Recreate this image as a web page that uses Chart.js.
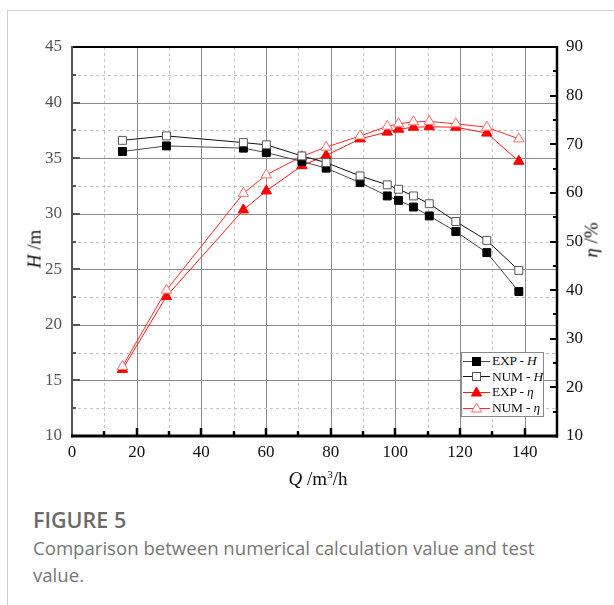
<!DOCTYPE html>
<html>
<head>
<meta charset="utf-8">
<script src="https://cdn.jsdelivr.net/npm/chart.js@4.4.1/dist/chart.umd.min.js"></script>
<style>
  html, body { margin: 0; padding: 0; background: #fff; }
  body { width: 614px; height: 605px; position: relative; overflow: hidden; }
  .card { position: absolute; left: 7px; top: 10px; width: 700px; height: 700px;
          border-left: 1px solid #cfcfcf; border-top: 1px solid #cfcfcf; }
  #wrap { position: absolute; left: 0; top: 0; width: 614px; height: 470px; }
  .serif { font-family: "Liberation Serif", "Times New Roman", serif; color: #111; }
  .axis-title { position: absolute; font-size: 19px; white-space: nowrap; line-height: 1; }
  .axis-title sup { font-size: 11px; vertical-align: 7px; line-height: 0; }
  #legend { position: absolute; left: 461px; top: 352px; width: 83px; height: 65px;
            border: 1px solid #8a8a8a; background: #fff; box-sizing: border-box; }
  #legend .row { position: absolute; left: 0px; height: 16px; display: flex; align-items: center;
                 font-size: 13.5px; white-space: nowrap; letter-spacing: -0.2px; }
  #legend svg { display: block; margin-right: 2px; }
  .caption { position: absolute; left: 33px; font-family: "Open Sans", "Noto Sans", sans-serif; color: #767676; }
  .fig { top: 505px; font-size: 21.5px; line-height: 30px; font-weight: 600; color: #6a6a6a; }
  .desc { top: 534px; font-size: 18.6px; line-height: 27px; width: 540px; }
</style>
</head>
<body>
<div class="card"></div>
<div id="wrap"><canvas id="c" width="614" height="470"></canvas></div>
<div class="axis-title serif" style="left:318px; top:469px; transform:translateX(-50%);"><i>Q</i> /m<sup>3</sup>/h</div>
<div class="axis-title serif" style="left:34px; top:249px; transform:translate(-50%,-50%) rotate(-90deg);"><i>H</i> /m</div>
<div class="axis-title serif" style="left:591px; top:240px; transform:translate(-50%,-50%) rotate(-90deg);"><i>η</i> /%</div>
<div id="legend" class="serif"></div>
<div class="caption fig">FIGURE 5</div>
<div class="caption desc">Comparison between numerical calculation value and test value.</div>

<script>
// Flow rate (m³/h) of each operating point
const flowRates = [15.6, 29.2, 53.0, 60.1, 71.1, 78.6, 89.1, 97.5, 101.0, 105.6, 110.5, 118.7, 128.3, 138.2];
// Head (m)
const headExp = [35.6, 36.1, 35.9, 35.5, 34.7, 34.1, 32.8, 31.6, 31.2, 30.6, 29.8, 28.4, 26.5, 23.0];
const headNum = [36.6, 37.0, 36.4, 36.2, 35.2, 34.6, 33.4, 32.6, 32.2, 31.6, 30.9, 29.3, 27.6, 24.9];
// Efficiency (%)
const effExp = [23.7, 38.7, 56.5, 60.4, 65.6, 67.7, 71.1, 72.5, 73.1, 73.5, 73.6, 73.5, 72.3, 66.5];
const effNum = [24.3, 40.0, 59.9, 63.7, 67.5, 69.4, 71.7, 73.7, 74.2, 74.6, 74.7, 74.2, 73.5, 71.1];

const seriesNames = ['EXP - H', 'NUM - H', 'EXP - η', 'NUM - η'];

const pairs = (ys) => flowRates.map((q, i) => ({ x: q, y: ys[i] }));

const datasets = [
  { label: seriesNames[0], data: pairs(headExp), yAxisID: 'y',
    borderColor: '#4a4a4a', backgroundColor: '#000', pointBorderColor: '#000', pointBackgroundColor: '#000',
    pointStyle: 'rect', pointRadius: 5.6, borderWidth: 1, pointBorderWidth: 1, order: 2 },
  { label: seriesNames[1], data: pairs(headNum), yAxisID: 'y',
    borderColor: '#111', backgroundColor: '#fff', pointBorderColor: '#555', pointBackgroundColor: '#fff',
    pointStyle: 'rect', pointRadius: 5.6, borderWidth: 1, pointBorderWidth: 1, order: 1 },
  { label: seriesNames[2], data: pairs(effExp), yAxisID: 'y2',
    borderColor: '#ff1a1a', backgroundColor: '#ff0000', pointBorderColor: '#ff0000', pointBackgroundColor: '#ff0000',
    pointStyle: 'triangle', pointRadius: 6, borderWidth: 1, pointBorderWidth: 1, order: 4 },
  { label: seriesNames[3], data: pairs(effNum), yAxisID: 'y2',
    borderColor: '#ff2a2a', backgroundColor: '#fff', pointBorderColor: '#ff6a6a', pointBackgroundColor: '#fff',
    pointStyle: 'triangle', pointRadius: 6, borderWidth: 1, pointBorderWidth: 1, order: 3 }
];

const tickFont = { family: '"Liberation Serif", "Times New Roman", serif', size: 17 };

// Grid, axis frame and inward tick marks, drawn from the chart's scales
const framePlugin = {
  id: 'frame',
  beforeDatasetsDraw(chart) {
    const { ctx, chartArea: a, scales } = chart;
    const x = scales.x, y = scales.y;
    ctx.save();
    ctx.lineWidth = 1;
    for (let v = 10; v < 150; v += 10) {
      const px = Math.round(x.getPixelForValue(v)) + 0.5;
      const major = v % 20 === 0;
      ctx.strokeStyle = major ? '#8c8c8c' : '#c4c4c4';
      ctx.setLineDash(major ? [] : [3, 3]);
      ctx.beginPath(); ctx.moveTo(px, a.top); ctx.lineTo(px, a.bottom); ctx.stroke();
    }
    for (let v = 12.5; v < 45; v += 2.5) {
      const py = Math.round(y.getPixelForValue(v)) + 0.5;
      const major = v % 5 === 0;
      ctx.strokeStyle = major ? '#8c8c8c' : '#c4c4c4';
      ctx.setLineDash(major ? [] : [3, 3]);
      ctx.beginPath(); ctx.moveTo(a.left, py); ctx.lineTo(a.right, py); ctx.stroke();
    }
    ctx.restore();
  },
  afterDraw(chart) {
    const { ctx, chartArea: a, scales } = chart;
    const x = scales.x, y = scales.y, y2 = scales.y2;
    ctx.save();
    ctx.setLineDash([]);
    // inward ticks, left axis
    ctx.strokeStyle = '#555'; ctx.lineWidth = 2;
    for (let v = 10; v <= 45; v += 2.5) {
      const py = Math.round(y.getPixelForValue(v));
      const len = v % 5 === 0 ? 8 : 4;
      ctx.beginPath(); ctx.moveTo(a.left, py); ctx.lineTo(a.left + len, py); ctx.stroke();
    }
    // inward ticks, right axis
    ctx.strokeStyle = '#000';
    for (let v = 10; v <= 90; v += 5) {
      const py = Math.round(y2.getPixelForValue(v));
      const len = v % 10 === 0 ? 7 : 4;
      ctx.beginPath(); ctx.moveTo(a.right, py); ctx.lineTo(a.right - len, py); ctx.stroke();
    }
    // inward ticks, bottom axis
    ctx.lineWidth = 2.5;
    for (let v = 10; v < 150; v += 10) {
      const px = Math.round(x.getPixelForValue(v));
      const len = v % 20 === 0 ? 8 : 5;
      ctx.beginPath(); ctx.moveTo(px, a.bottom); ctx.lineTo(px, a.bottom - len); ctx.stroke();
    }
    // frame lines
    const line = (x1, y1, x2, y2_, c, w) => {
      ctx.strokeStyle = c; ctx.lineWidth = w;
      ctx.beginPath(); ctx.moveTo(x1, y1); ctx.lineTo(x2, y2_); ctx.stroke();
    };
    line(a.left, a.top, a.right + 1, a.top, '#000', 2);
    line(a.right, a.top - 1, a.right, a.bottom + 1.5, '#000', 2.5);
    line(a.left, a.top - 1, a.left, a.bottom + 1.5, '#555', 2);
    line(a.left - 1, a.bottom, a.right + 1, a.bottom, '#000', 3);
    ctx.restore();
  }
};

const chart = new Chart(document.getElementById('c'), {
  type: 'scatter',
  data: { datasets: datasets.map(d => Object.assign({ showLine: true, tension: 0, clip: false }, d)) },
  options: {
    responsive: false,
    animation: false,
    devicePixelRatio: 1,
    layout: { padding: { left: 0, right: 0, top: 47, bottom: 0 } },
    plugins: { legend: { display: false }, tooltip: { enabled: false } },
    scales: {
      x: {
        type: 'linear', min: 0, max: 150,
        ticks: { stepSize: 20, includeBounds: false, padding: 6, color: '#111', font: tickFont, maxRotation: 0 },
        grid: { drawOnChartArea: false, drawTicks: false },
        border: { display: false },
        afterFit: s => { s.height = 34; s.paddingLeft = 0; s.paddingRight = 0; }
      },
      y: {
        type: 'linear', position: 'left', min: 10, max: 45,
        ticks: { stepSize: 5, padding: 10, color: '#555', font: tickFont },
        grid: { drawOnChartArea: false, drawTicks: false },
        border: { display: false },
        afterFit: s => { s.width = 72; s.paddingTop = 0; s.paddingBottom = 0; }
      },
      y2: {
        type: 'linear', position: 'right', min: 10, max: 90,
        ticks: { stepSize: 10, padding: 9, color: '#111', font: tickFont },
        grid: { drawOnChartArea: false, drawTicks: false },
        border: { display: false },
        afterFit: s => { s.width = 57; s.paddingTop = 0; s.paddingBottom = 0; }
      }
    }
  },
  plugins: [framePlugin]
});

// Legend built from the datasets
(function buildLegend() {
  const box = document.getElementById('legend');
  const italicize = (label) => {
    const parts = label.split(' - ');
    return parts[0] + ' - <i>' + parts[1] + '</i>';
  };
  datasets.forEach((d, i) => {
    const row = document.createElement('div');
    row.className = 'row';
    row.style.top = (0 + i * 15.7) + 'px';
    let marker;
    if (d.pointStyle === 'rect') {
      marker = `<rect x="10.5" y="3.5" width="8" height="8" fill="${d.pointBackgroundColor}" stroke="${d.pointBorderColor}" stroke-width="1"/>`;
    } else {
      marker = `<polygon points="14.5,2 19.5,11 9.5,11" fill="${d.pointBackgroundColor}" stroke="${d.pointBorderColor}" stroke-width="1"/>`;
    }
    row.innerHTML = `<svg width="28" height="15"><line x1="1" y1="7.5" x2="28" y2="7.5" stroke="${d.borderColor}" stroke-width="1"/>${marker}</svg><span>${italicize(d.label)}</span>`;
    box.appendChild(row);
  });
})();
</script>
</body>
</html>
